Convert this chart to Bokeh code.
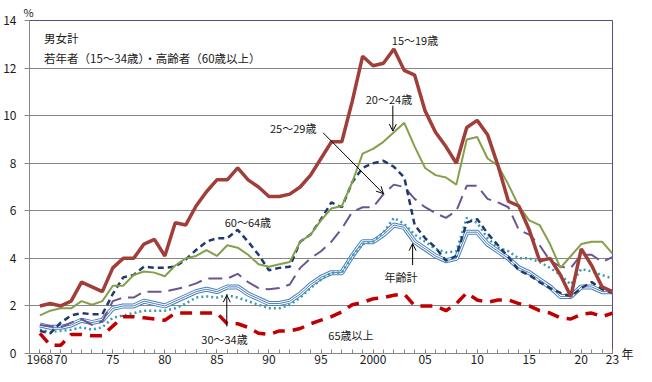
from bokeh.plotting import figure
from bokeh.models import (Range1d, FixedTicker, Label, Arrow, OpenHead, ColumnDataSource,
                          Title, LinearAxis)
from bokeh.embed import file_html
from bokeh.resources import INLINE

# ---------------- data ----------------
years = list(range(1968, 2024))

age_15_19 = [2.0, 2.1, 2.0, 2.2, 3.0, 2.8, 2.6, 3.6, 4.0, 4.0,
             4.6, 4.8, 4.1, 5.5, 5.4, 6.2, 6.8, 7.3, 7.3, 7.8,
             7.3, 7.0, 6.6, 6.6, 6.7, 7.0, 7.5, 8.2, 8.9, 8.9,
             10.6, 12.5, 12.1, 12.2, 12.8, 11.9, 11.7, 10.2, 9.3, 8.7,
             8.0, 9.5, 9.8, 9.2, 7.9, 6.4, 6.2, 5.2, 3.9, 4.0,
             3.3, 2.4, 4.4, 3.7, 2.8, 2.6]
age_20_24 = [1.6, 1.8, 1.9, 1.9, 2.2, 2.05, 2.2, 2.85, 2.85, 3.3,
             3.45, 3.4, 3.25, 3.7, 4.0, 4.1, 4.35, 4.1, 4.55, 4.45,
             4.15, 3.75, 3.65, 3.75, 3.85, 4.7, 5.0, 5.6, 6.1, 6.2,
             7.2, 8.4, 8.6, 8.9, 9.3, 9.7, 8.7, 7.8, 7.5, 7.4,
             7.1, 9.0, 9.1, 8.2, 7.9, 7.1, 6.2, 5.6, 5.4, 4.6,
             3.6, 4.1, 4.6, 4.7, 4.7, 4.2]
age_25_29 = [1.2, 1.15, 1.1, 1.3, 1.45, 1.2, 1.35, 2.2, 2.35, 2.35,
             2.6, 2.6, 2.6, 2.7, 2.8, 2.95, 3.15, 3.15, 3.15, 3.35,
             3.0, 2.75, 2.7, 2.75, 2.9, 3.6, 4.0, 4.3, 4.7, 5.25,
             5.95, 6.15, 6.15, 6.7, 7.1, 7.0, 6.5, 6.15, 5.9, 5.7,
             6.0, 7.05, 7.05, 6.5, 6.35, 6.15, 5.2, 5.0, 4.55, 3.9,
             3.65, 3.6, 4.15, 4.15, 3.85, 4.05]
age_30_34 = [1.0, 0.9, 0.95, 1.0, 1.1, 1.0, 1.1, 1.5, 1.6, 1.7,
             1.8, 1.8, 1.8, 1.9, 2.1, 2.35, 2.4, 2.35, 2.45, 2.35,
             2.2, 2.05, 1.9, 1.9, 2.05, 2.35, 2.75, 3.1, 3.4, 3.4,
             4.1, 4.6, 4.7, 5.1, 5.7, 5.45, 5.0, 4.7, 4.4, 4.25,
             4.3, 5.7, 5.5, 4.85, 4.45, 4.3, 4.0, 4.0, 3.85, 3.6,
             3.3, 2.9, 3.55, 3.45, 3.3, 3.15]
age_60_64 = [0.95, 0.85, 1.3, 1.6, 1.7, 1.65, 1.65, 2.5, 3.2, 3.3,
             3.65, 3.6, 3.6, 3.65, 3.95, 4.35, 4.7, 4.85, 4.85, 5.2,
             4.7, 4.15, 3.5, 3.6, 3.65, 4.7, 5.0, 5.65, 6.35, 6.15,
             7.2, 7.8, 8.0, 8.1, 7.85, 7.4, 5.4, 4.85, 4.45, 3.9,
             4.1, 5.5, 5.65, 5.05, 4.55, 4.05, 3.5, 3.3, 3.0, 2.75,
             2.55, 2.4, 2.75, 3.0, 2.7, 2.55]
age_65_over = [0.85, 0.35, 0.35, 0.8, 0.8, 0.75, 0.75, 1.15, 1.55, 1.55,
               1.5, 1.45, 1.4, 1.7, 1.7, 1.7, 1.7, 1.7, 1.25, 1.25,
               1.1, 0.85, 0.8, 0.95, 0.95, 1.05, 1.25, 1.4, 1.55, 1.75,
               2.05, 2.15, 2.3, 2.35, 2.45, 2.5, 2.0, 2.0, 2.0, 1.8,
               2.1, 2.55, 2.25, 2.15, 2.25, 2.25, 2.1, 2.0, 1.8, 1.7,
               1.5, 1.45, 1.65, 1.7, 1.55, 1.7]
age_total = [1.2, 1.1, 1.1, 1.2, 1.4, 1.3, 1.4, 1.9, 2.0, 2.0,
             2.2, 2.1, 2.0, 2.2, 2.4, 2.6, 2.7, 2.6, 2.8, 2.8,
             2.5, 2.3, 2.1, 2.1, 2.2, 2.5, 2.9, 3.2, 3.4, 3.4,
             4.1, 4.7, 4.7, 5.0, 5.4, 5.3, 4.7, 4.4, 4.1, 3.9,
             4.0, 5.1, 5.1, 4.6, 4.3, 4.0, 3.6, 3.4, 3.1, 2.8,
             2.4, 2.4, 2.8, 2.8, 2.6, 2.6]

x_tick_years = [1968, 1970, 1975, 1980, 1985, 1990, 1995, 2000, 2005, 2010, 2015, 2020, 2023]
x_tick_labels = ["1968", "70", "75", "80", "85", "90", "95", "2000", "05", "10", "15", "20", "23"]
y_ticks = [0, 2, 4, 6, 8, 10, 12, 14]
x_unit = "年"
y_unit = "%"

FONT = "Noto Sans CJK JP"
TXT = "#1a1a1a"

src = ColumnDataSource(dict(year=years, a1519=age_15_19, a2024=age_20_24, a2529=age_25_29,
                            a3034=age_30_34, a6064=age_60_64, a65=age_65_over, tot=age_total))

p = figure(width=636, height=366, x_range=Range1d(1967, 2023), y_range=Range1d(0, 14),
           output_backend="svg", toolbar_location=None,
           min_border_left=29, min_border_right=4, min_border_top=14, min_border_bottom=8)
p.background_fill_color = "white"
p.border_fill_color = "white"
p.outline_line_color = "#604A7B"
p.outline_line_width = 1

# unit "%" above the y axis
p.add_layout(Title(text=y_unit, align="left", offset=-6, standoff=2,
                   text_font=FONT, text_font_size="11px", text_font_style="normal",
                   text_color=TXT), "above")

# grid
p.xgrid.grid_line_color = None
p.ygrid.grid_line_color = "#868686"
p.ygrid.grid_line_width = 1
p.ygrid.ticker = FixedTicker(ticks=y_ticks)

# axes
xa = p.xaxis[0]
xa.ticker = FixedTicker(ticks=x_tick_years, minor_ticks=years)
xa.major_label_overrides = {y: l for y, l in zip(x_tick_years, x_tick_labels)}
xa.axis_line_color = "#868686"
xa.major_tick_line_color = "#868686"
xa.minor_tick_line_color = "#868686"
xa.major_tick_in = 4
xa.major_tick_out = 0
xa.minor_tick_in = 4
xa.minor_tick_out = 0
xa.major_label_standoff = 1
xa.major_label_text_font = FONT
xa.major_label_text_font_size = "12px"
xa.major_label_text_color = TXT

ya = p.yaxis[0]
ya.ticker = FixedTicker(ticks=y_ticks)
ya.axis_line_color = "#868686"
ya.major_tick_line_color = "#868686"
ya.major_tick_in = 0
ya.major_tick_out = 5
ya.minor_tick_line_color = None
ya.major_label_standoff = 8
ya.major_label_text_font = FONT
ya.major_label_text_font_size = "12px"
ya.major_label_text_color = TXT

# unit "年" to the right of the last year label: a right-hand axis with one tick at 0
ra = LinearAxis(ticker=FixedTicker(ticks=[0]), major_label_overrides={0: x_unit})
ra.axis_line_color = None
ra.major_tick_line_color = None
ra.minor_tick_line_color = None
ra.major_tick_in = 0
ra.major_tick_out = 0
ra.major_label_standoff = 9
ra.major_label_text_font = FONT
ra.major_label_text_font_size = "12px"
ra.major_label_text_color = TXT
p.add_layout(ra, "right")

# series
# 年齢計: triple line (blue / white / blue)
p.line("year", "tot", source=src, line_color="#4A7EBB", line_width=5)
p.line("year", "tot", source=src, line_color="white", line_width=3)
p.line("year", "tot", source=src, line_color="#4A7EBB", line_width=1)
# 30~34
p.line("year", "a3034", source=src, line_color="#3A9BB0", line_width=2.5, line_dash="2 3")
# 25~29
p.line("year", "a2529", source=src, line_color="#6A5592", line_width=2, line_dash="14 7")
# 60~64
p.line("year", "a6064", source=src, line_color="#1F3A6E", line_width=2.5, line_dash="6 4")
# 65+
p.line("year", "a65", source=src, line_color="#C00000", line_width=3.5, line_dash="12 8")
# 20~24
p.line("year", "a2024", source=src, line_color="#84A04A", line_width=2)
# 15~19
p.line("year", "a1519", source=src, line_color="#A03E3A", line_width=3.5)

def lab(x, y, t, align="left", size="11px"):
    p.add_layout(Label(x=x, y=y, text=t, text_font=FONT, text_font_size=size,
                       text_align=align, text_baseline="middle", text_color=TXT))

def arr(x0, y0, x1, y1):
    p.add_layout(Arrow(end=OpenHead(size=7, line_width=1, line_color="black"),
                       x_start=x0, y_start=y0, x_end=x1, y_end=y1,
                       line_width=1, line_color="black"))

lab(1968.4, 13.25, "男女計", size="11.5px")
lab(1968.4, 12.41, "若年者（15～34歳）・高齢者（60歳以上）", size="11.5px")

lab(2001.8, 13.16, "15～19歳")
lab(1999.3, 10.71, "20～24歳")
arr(2001.9, 10.42, 2001.9, 9.35)
lab(1990.1, 9.46, "25～29歳")
arr(1995.2, 9.28, 2001.0, 6.72)
lab(1985.75, 5.53, "60～64歳")
lab(1983.5, 0.61, "30～34歳")
arr(1985.95, 1.14, 1985.95, 2.45)
lab(2001.1, 3.22, "年齢計")
arr(2003.8, 3.72, 2003.8, 4.62)
lab(1995.7, 0.79, "65歳以上")

open("out.html", "w").write(file_html(p, INLINE))
